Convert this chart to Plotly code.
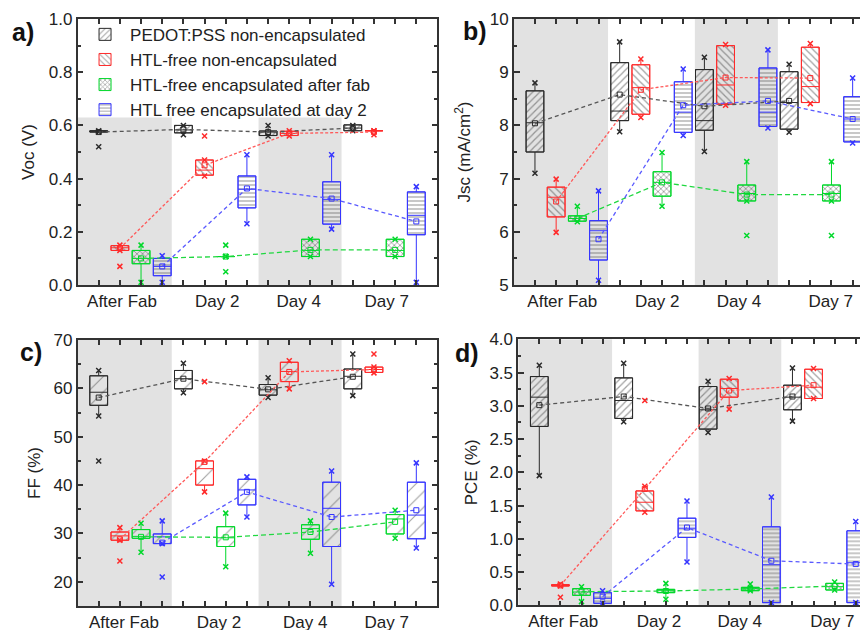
import plotly.graph_objects as go

SERIES = ["PEDOT:PSS non-encapsulated", "HTL-free non-encapsulated",
          "HTL-free encapsulated after fab", "HTL free encapsulated at day 2"]
DAYS = ["After Fab", "Day 2", "Day 4", "Day 7"]

# box stats per series (black, red, green, blue), each over the 4 days
voc_q1 = [[0.575, 0.572, 0.562, 0.580], [0.130, 0.413, 0.562, 0.580],
          [0.080, 0.107, 0.107, 0.107], [0.035, 0.290, 0.229, 0.189]]
voc_med = [[0.578, 0.583, 0.575, 0.590], [0.140, 0.432, 0.570, 0.580],
           [0.100, 0.107, 0.130, 0.130], [0.070, 0.360, 0.322, 0.262]]
voc_q3 = [[0.580, 0.600, 0.579, 0.602], [0.148, 0.470, 0.578, 0.580],
          [0.130, 0.107, 0.172, 0.172], [0.100, 0.410, 0.388, 0.350]]
voc_lo = [[0.575, 0.565, 0.560, 0.580], [0.130, 0.410, 0.560, 0.580],
          [0.010, 0.107, 0.107, 0.107], [0.010, 0.230, 0.210, 0.010]]
voc_hi = [[0.580, 0.600, 0.600, 0.600], [0.150, 0.470, 0.580, 0.580],
          [0.150, 0.107, 0.172, 0.172], [0.110, 0.490, 0.490, 0.370]]
voc_mean = [[0.575, 0.585, 0.575, 0.590], [0.138, 0.450, 0.570, 0.575],
            [0.100, 0.107, 0.132, 0.132], [0.070, 0.363, 0.325, 0.239]]
voc_out = [[[0.52], [], [], []], [[0.07], [0.56], [], [0.565]],
           [[], [0.15, 0.05], [], []], [[], [], [], []]]

jsc_q1 = [[7.50, 8.09, 7.91, 7.93], [6.28, 8.21, 8.40, 8.43],
          [6.20, 6.67, 6.58, 6.58], [5.47, 7.87, 7.98, 7.69]]
jsc_med = [[8.05, 8.27, 8.09, 8.43], [6.65, 8.71, 8.76, 8.73],
           [6.25, 6.93, 6.72, 6.72], [6.02, 8.25, 8.25, 8.12]]
jsc_q3 = [[8.65, 9.18, 9.05, 9.01], [6.84, 9.14, 9.50, 9.47],
          [6.30, 7.13, 6.88, 6.88], [6.21, 8.82, 9.08, 8.54]]
jsc_lo = [[7.10, 7.88, 7.51, 7.87], [5.99, 8.15, 8.38, 8.41],
          [6.19, 6.48, 6.58, 6.58], [5.09, 7.81, 7.95, 7.67]]
jsc_hi = [[8.80, 9.57, 9.28, 9.15], [6.99, 9.25, 9.52, 9.54],
          [6.48, 7.49, 7.32, 7.32], [6.77, 9.06, 9.42, 8.89]]
jsc_mean = [[8.04, 8.58, 8.36, 8.46], [6.57, 8.67, 8.90, 8.89],
            [6.25, 6.93, 6.70, 6.70], [5.86, 8.38, 8.46, 8.12]]
jsc_out = [[[], [], [], []], [[], [], [], []],
           [[], [], [5.93], [5.93]], [[], [], [], []]]

ff_q1 = [[56.5, 59.9, 58.6, 59.9], [28.6, 40.0, 61.4, 63.3],
         [29.0, 27.3, 28.8, 29.9], [27.9, 35.9, 27.3, 28.9]]
ff_med = [[59.2, 62.0, 59.7, 62.5], [29.5, 43.4, 63.5, 63.9],
          [29.4, 29.1, 31.0, 33.0], [29.3, 39.0, 35.2, 33.8]]
ff_q3 = [[62.6, 63.7, 60.8, 64.0], [30.3, 45.0, 65.4, 64.4],
         [30.8, 31.4, 31.8, 33.9], [29.9, 41.2, 40.6, 40.6]]
ff_lo = [[54.3, 59.1, 58.1, 58.5], [28.6, 38.6, 59.9, 63.2],
         [26.1, 23.1, 25.9, 29.0], [27.9, 33.4, 19.5, 27.0]]
ff_hi = [[63.7, 65.2, 62.2, 67.1], [31.2, 45.0, 65.7, 64.4],
         [32.1, 34.2, 32.6, 34.8], [32.6, 41.7, 42.9, 44.6]]
ff_mean = [[58.1, 62.0, 59.8, 62.4], [28.8, 44.8, 63.4, 63.9],
           [29.3, 29.2, 30.3, 32.4], [28.1, 38.6, 33.4, 34.8]]
ff_out = [[[45.0], [], [], []], [[24.3], [61.4], [], [67.1]],
          [[], [], [], []], [[21.0], [], [], []]]

pce_q1 = [[2.69, 2.81, 2.65, 2.94], [0.29, 1.42, 3.13, 3.11],
          [0.15, 0.19, 0.22, 0.23], [0.03, 1.02, 0.04, 0.04]]
pce_med = [[3.13, 3.08, 2.94, 3.13], [0.30, 1.55, 3.26, 3.28],
           [0.20, 0.22, 0.25, 0.28], [0.105, 1.16, 0.61, 0.64]]
pce_q3 = [[3.44, 3.42, 3.29, 3.31], [0.31, 1.72, 3.40, 3.55],
          [0.25, 0.24, 0.27, 0.33], [0.19, 1.31, 1.18, 1.12]]
pce_lo = [[1.95, 2.76, 2.60, 2.77], [0.29, 1.40, 2.95, 3.11],
          [0.055, 0.09, 0.22, 0.23], [0.03, 0.65, 0.04, 0.04]]
pce_hi = [[3.61, 3.64, 3.37, 3.57], [0.32, 1.79, 3.41, 3.56],
          [0.28, 0.33, 0.32, 0.35], [0.22, 1.57, 1.63, 1.26]]
pce_mean = [[3.01, 3.14, 2.96, 3.14], [0.30, 1.75, 3.23, 3.31],
            [0.205, 0.215, 0.245, 0.29], [0.13, 1.17, 0.67, 0.62]]
pce_out = [[[], [], [], []], [[0.12], [3.08], [], []],
           [[], [], [], []], [[], [], [], []]]

COLORS = ["#2a2a2a", "#ff2a2a", "#00d82a", "#3535ff"]
LINE_COLORS = ["#555555", "#ff5a5a", "#20d840", "#5a5aff"]
DASHES = ["4px,3px", "3px,2px", "5px,3px", "4px,3px"]
HATCH = [("/", 5, 0.25), ("\\", 5, 0.25), ("x", 4, 0.4), ("-", 4, 0.3)]
HATCH_FF = [("/", 11, 0.1)] * 4
BOX_W = 0.84
BANDS = [(0, 4.45), (8.55, 12.47)]
FONT = "Arial, Liberation Sans, sans-serif"
AX = "#333333"

fig = go.Figure()


def add_panel(n, q1, med, q3, lo, hi, mean, out, hatch):
    xa, ya = ("x", "y") if n == 1 else (f"x{n}", f"y{n}")
    for i, name in enumerate(SERIES):
        pos = [4 * d + i + 1 for d in range(4)]
        shape, size, sol = hatch[i]
        fig.add_trace(go.Bar(
            x=pos, base=q1[i], y=[b - a for a, b in zip(q1[i], q3[i])], width=BOX_W,
            marker=dict(color=COLORS[i], line=dict(color=COLORS[i], width=1),
                        pattern=dict(shape=shape, size=size, solidity=sol,
                                     bgcolor="rgba(0,0,0,0)")),
            name=name, showlegend=(n == 1), xaxis=xa, yaxis=ya, hoverinfo="skip"))
        fig.add_trace(go.Box(
            x=pos, q1=q1[i], median=med[i], q3=q3[i], lowerfence=lo[i], upperfence=hi[i],
            width=BOX_W, whiskerwidth=0, fillcolor="rgba(0,0,0,0)",
            line=dict(color=COLORS[i], width=1), boxpoints=False,
            showlegend=False, xaxis=xa, yaxis=ya, hoverinfo="skip"))
        xs, ys = [], []
        for d in range(4):
            for v in [lo[i][d], hi[i][d]] + out[i][d]:
                xs.append(pos[d])
                ys.append(v)
        fig.add_trace(go.Scatter(
            x=xs, y=ys, mode="markers", showlegend=False, xaxis=xa, yaxis=ya,
            marker=dict(symbol="x-thin", size=5, line=dict(color=COLORS[i], width=1.5))))
        fig.add_trace(go.Scatter(
            x=pos, y=mean[i], mode="lines+markers", showlegend=False, xaxis=xa, yaxis=ya,
            line=dict(color=LINE_COLORS[i], width=1.3, dash=DASHES[i]),
            marker=dict(symbol="square-open", size=5, color=COLORS[i],
                        line=dict(color=COLORS[i], width=1))))


add_panel(1, voc_q1, voc_med, voc_q3, voc_lo, voc_hi, voc_mean, voc_out, HATCH)
add_panel(2, jsc_q1, jsc_med, jsc_q3, jsc_lo, jsc_hi, jsc_mean, jsc_out, HATCH)
add_panel(3, ff_q1, ff_med, ff_q3, ff_lo, ff_hi, ff_mean, ff_out, HATCH_FF)
add_panel(4, pce_q1, pce_med, pce_q3, pce_lo, pce_hi, pce_mean, pce_out, HATCH)

# grey bands behind the After Fab and Day 4 groups
band_top = {1: 0.63, 2: 10, 3: 70, 4: 4.0}
band_bot = {1: 0, 2: 5, 3: 15, 4: 0}
for n in range(1, 5):
    for x0, x1 in BANDS:
        fig.add_shape(type="rect", xref="x" if n == 1 else f"x{n}",
                      yref="y" if n == 1 else f"y{n}", x0=x0, x1=x1,
                      y0=band_bot[n], y1=band_top[n], fillcolor="#e2e2e2",
                      line_width=0, layer="below")


def xcfg(domain, rng, anchor, labels_at):
    return dict(domain=domain, range=rng, anchor=anchor, tickmode="array",
                tickvals=labels_at, ticktext=DAYS, ticks="", showline=True,
                mirror="ticks", linecolor=AX, linewidth=1.5, showgrid=False,
                zeroline=False, automargin=False,
                tickfont=dict(family=FONT, size=17, color="#222"),
                minor=dict(tickmode="array", tickvals=list(range(1, 17)),
                           ticks="inside", ticklen=5, tickwidth=1.5, tickcolor=AX))


def ycfg(domain, rng, anchor, dtick, minor, title, standoff, fmt):
    return dict(domain=domain, range=rng, anchor=anchor, dtick=dtick, tick0=0,
                tickformat=fmt, ticks="inside", ticklen=6, tickwidth=1.5,
                tickcolor=AX, showline=True, mirror="ticks", linecolor=AX,
                linewidth=1.5, showgrid=False, zeroline=False, automargin=False,
                tickfont=dict(family=FONT, size=17, color="#222"),
                title=dict(text=title, standoff=standoff,
                           font=dict(family=FONT, size=17, color="#222")),
                minor=dict(dtick=minor, ticks="inside", ticklen=3.5, tickwidth=1.5,
                           tickcolor=AX))


# the page body adds an 8px offset, so domains are placed 8px up/left
TOP_Y = [0.5603, 0.9825]
BOT_Y = [0.0508, 0.4730]
fig.update_layout(
    width=868, height=630, margin=dict(l=0, r=0, t=0, b=0, autoexpand=False),
    paper_bgcolor="white", plot_bgcolor="white", barmode="overlay", boxmode="overlay",
    xaxis=xcfg([0.0801, 0.4948], [0, 17], "y", [2.1, 6.6, 10.45, 14.6]),
    xaxis2=xcfg([0.5827, 0.9975], [0, 17], "y2", [2.29, 6.77, 10.63, 14.96]),
    xaxis3=xcfg([0.0801, 0.4948], [0, 17], "y3", [2.19, 6.68, 10.75, 14.6]),
    xaxis4=xcfg([0.5878, 1.0], [0, 16.96], "y4", [2.13, 6.67, 10.5, 14.89]),
    yaxis=ycfg(TOP_Y, [0, 1.0], "x", 0.2, 0.1, "Voc (V)", 10, ".1f"),
    yaxis2=ycfg(TOP_Y, [5, 10], "x2", 1, 0.5, "Jsc (mA/cm<sup>2</sup>)", 15, "d"),
    yaxis3=ycfg(BOT_Y, [15, 70], "x3", 10, 5, "FF (%)", 9, "d"),
    yaxis4=ycfg([0.0519, 0.4741], [0, 4.0], "x4", 0.5, 0.25, "PCE (%)", 7, ".1f"),
    legend=dict(x=0.083, y=0.986, xanchor="left", yanchor="top",
                bgcolor="rgba(0,0,0,0)",
                font=dict(family=FONT, size=17, color="#222"), tracegroupgap=0,
                itemwidth=40),
)

for txt, x, y in [("a)", 0.0173, 0.962), ("b)", 0.538, 0.9635),
                  ("c)", 0.0265, 0.454), ("d)", 0.5288, 0.4524)]:
    fig.add_annotation(text=f"<b>{txt}</b>", x=x, y=y, xref="paper", yref="paper",
                       xanchor="center", yanchor="middle", showarrow=False,
                       font=dict(family=FONT, size=25, color="#111"))

fig.write_html("out.html")
